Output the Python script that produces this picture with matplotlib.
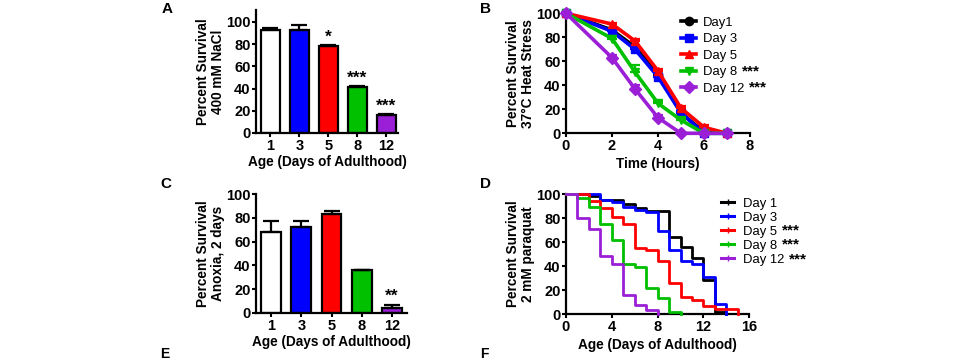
import matplotlib
matplotlib.use("Agg")
import matplotlib.pyplot as plt
from matplotlib.lines import Line2D
import numpy as np

plt.rcParams['font.family'] = ['Liberation Sans', 'DejaVu Sans']

# ---------------- data ----------------
ages = ['1', '3', '5', '8', '12']
bar_colors = ['#FFFFFF', '#0000FF', '#FF0000', '#00C000', '#9B1FD6']

nacl_mean = [93, 93, 78, 41, 16]
nacl_err = [1.5, 4.5, 1.5, 1.5, 1.5]
nacl_sig = ['', '', '*', '***', '***']

anoxia_mean = [68, 72, 83, 36, 4]
anoxia_err = [9, 5, 3, 0, 3]
anoxia_sig = ['', '', '', '', '**']

heat_time = [0, 2, 3, 4, 5, 6, 7]
heat_day1 = [100, 86, 72, 49, 17, 1, 0]
heat_day1_err = [0, 2, 6, 3, 2, 1, 0]
heat_day3 = [100, 85, 70, 47, 17, 0, 0]
heat_day3_err = [0, 2, 3, 5, 2, 0, 0]
heat_day5 = [100, 91, 77, 52, 21, 5, 0]
heat_day5_err = [0, 1, 2, 2, 2, 2, 0]
heat_day8 = [100, 79, 51, 25, 11, 0, 0]
heat_day8_err = [0, 2, 6, 2, 2, 0, 0]
heat_day12 = [100, 63, 37, 13, 0, 0, 0]
heat_day12_err = [0, 2, 3, 2, 0, 0, 0]
heat_labels = ['Day1', 'Day 3', 'Day 5', 'Day 8', 'Day 12']
heat_sig = ['', '', '', '***', '***']
heat_markers = ['o', 's', '^', 'v', 'D']
line_colors = ['#000000', '#0000FF', '#FF0000', '#00C000', '#9B1FD6']

pq_day1_t = [0, 2, 3, 5, 6, 7, 9, 10, 11, 12, 13, 14]
pq_day1_s = [100, 98.5, 95, 92, 88, 86, 64, 56, 47, 28, 1.5, 0]
pq_day3_t = [0, 3, 4, 5, 6, 7, 8, 9, 10, 11, 12, 13, 14]
pq_day3_s = [100, 95, 93, 89.5, 87, 85, 69, 53, 44, 42, 31, 8, 0]
pq_day5_t = [0, 2, 3, 4, 5, 6, 7, 8, 9, 10, 11, 12, 13, 15]
pq_day5_s = [100, 94, 88, 81, 75, 55, 53, 44, 26, 14, 12, 7, 4, 0]
pq_day8_t = [0, 1, 2, 3, 4, 5, 6, 7, 8, 9, 10]
pq_day8_s = [100, 96.4, 89, 75, 62, 42, 39, 22, 13, 1.5, 0]
pq_day12_t = [0, 1, 2, 3, 4, 5, 6, 7, 8]
pq_day12_s = [100, 80, 71, 48, 41.6, 16, 7.5, 3.5, 0]
pq_labels = ['Day 1', 'Day 3', 'Day 5', 'Day 8', 'Day 12']
pq_sig = ['', '', '***', '***', '***']

# ---------------- figure ----------------
W, H = 967, 362
fig = plt.figure(figsize=(W / 100, H / 100), dpi=100)
fig.patch.set_facecolor('white')


def px_axes(x0, x1, ytop, ybot):
    return fig.add_axes([x0 / W, 1 - ybot / H, (x1 - x0) / W, (ybot - ytop) / H])


TICK_FS = 10.5
LAB_FS = 9.8
LEG_FS = 9.4


def style(ax):
    for s in ['top', 'right']:
        ax.spines[s].set_visible(False)
    for s in ['left', 'bottom']:
        ax.spines[s].set_linewidth(1.6)
    ax.tick_params(direction='out', length=3, width=1.5, labelsize=TICK_FS, pad=1)
    for lab in ax.get_xticklabels() + ax.get_yticklabels():
        lab.set_fontweight('bold')


def bar_panel(ax, means, errs, sigs, ylabel, ytop):
    x = np.arange(len(ages))
    ax.bar(x, means, width=0.65, color=bar_colors, edgecolor='black', linewidth=1.6, zorder=2)
    ax.errorbar(x, means, yerr=[np.zeros(len(errs)), errs], fmt='none', ecolor='black',
                elinewidth=1.6, capsize=6, capthick=1.6, zorder=3)
    for xi, m, e, s in zip(x, means, errs, sigs):
        if s:
            ax.text(xi, m + e + 7, s, ha='center', va='center', fontsize=12.5, fontweight='bold')
    ax.set_xticks(x)
    ax.set_xticklabels(ages)
    ax.set_yticks(np.arange(0, 101, 20))
    ax.set_ylim(0, ytop)
    ax.tick_params(axis='x', length=0)
    ax.set_xlabel('Age (Days of Adulthood)', fontsize=LAB_FS, fontweight='bold', labelpad=2)
    ax.set_ylabel(ylabel, fontsize=LAB_FS, fontweight='bold', labelpad=1, linespacing=1.05)
    style(ax)


# Panel A
axA = px_axes(256, 398, 10, 133)
bar_panel(axA, nacl_mean, nacl_err, nacl_sig, 'Percent Survival\n400 mM NaCl', 110.8)
axA.set_xlim(-0.5, 4.4)

# Panel C
axC = px_axes(256, 407, 194, 313)
bar_panel(axC, anoxia_mean, anoxia_err, anoxia_sig, 'Percent Survival\nAnoxia, 2 days', 100)
axC.set_xlim(-0.5, 4.5)

# Panel B
axB = px_axes(566, 750, 13.3, 133.3)
heat_series = [heat_day1, heat_day3, heat_day5, heat_day8, heat_day12]
heat_errs = [heat_day1_err, heat_day3_err, heat_day5_err, heat_day8_err, heat_day12_err]
order = [3, 4, 0, 1, 2]
handles = [None] * 5
for i in order:
    ys, es = heat_series[i], heat_errs[i]
    axB.errorbar(heat_time, ys, yerr=[np.zeros(len(es)), es], color=line_colors[i],
                 marker=heat_markers[i], markersize=6, linewidth=2.6, elinewidth=1.6,
                 capsize=3.5, capthick=1.6, clip_on=False, zorder=3 + i)
    handles[i] = Line2D([], [], color=line_colors[i], marker=heat_markers[i], markersize=6,
                        linewidth=2.6)
axB.set_xlim(0, 8)
axB.set_ylim(0, 100)
axB.set_xticks([0, 2, 4, 6, 8])
axB.set_yticks(np.arange(0, 101, 20))
axB.set_xlabel('Time (Hours)', fontsize=LAB_FS, fontweight='bold', labelpad=3)
axB.set_ylabel('Percent Survival\n37°C Heat Stress', fontsize=LAB_FS, fontweight='bold',
               labelpad=1, linespacing=1.05)
style(axB)
legB = fig.legend(handles, heat_labels, loc='upper left', bbox_to_anchor=(681 / W, 1 - 16.5 / H),
                  frameon=False, fontsize=LEG_FS, handlelength=1.15, handletextpad=0.5,
                  labelspacing=0.34, borderpad=0, borderaxespad=0)

# Panel D
axD = px_axes(566, 749.3, 194, 314)
pq_t = [pq_day1_t, pq_day3_t, pq_day5_t, pq_day8_t, pq_day12_t]
pq_s = [pq_day1_s, pq_day3_s, pq_day5_s, pq_day8_s, pq_day12_s]
handlesD = []
for i in [0, 1, 2, 3, 4]:
    axD.plot(pq_t[i], pq_s[i], drawstyle='steps-post', color=line_colors[i], linewidth=2.0,
             clip_on=False, zorder=3 + i)
    handlesD.append(Line2D([], [], color=line_colors[i], linewidth=2.2, marker='|',
                           markersize=4, markeredgewidth=1))
axD.set_xlim(0, 16)
axD.set_ylim(0, 100)
axD.set_xticks([0, 4, 8, 12, 16])
axD.set_yticks(np.arange(0, 101, 20))
axD.set_xlabel('Age (Days of Adulthood)', fontsize=LAB_FS, fontweight='bold', labelpad=3)
axD.set_ylabel('Percent Survival\n2 mM paraquat', fontsize=LAB_FS, fontweight='bold',
               labelpad=1, linespacing=1.05)
style(axD)
legD = fig.legend(handlesD, pq_labels, loc='upper left', bbox_to_anchor=(721 / W, 1 - 197.5 / H),
                  frameon=False, fontsize=LEG_FS, handlelength=1.0, handletextpad=0.65,
                  labelspacing=0.15, borderpad=0, borderaxespad=0)

# bold significance stars after legend labels
fig.canvas.draw()
renderer = fig.canvas.get_renderer()
for leg, sigs in [(legB, heat_sig), (legD, pq_sig)]:
    for txt, s in zip(leg.get_texts(), sigs):
        if s:
            bb = txt.get_window_extent(renderer)
            fig.text((bb.x1 + 5.5) / W, bb.y0 / H, s, fontsize=LEG_FS + 1.5, fontweight='bold',
                     ha='left', va='bottom')

# Panel letters
for letter, x, y in [('A', 162, 2), ('B', 480, 2), ('C', 160, 177), ('D', 480, 177)]:
    fig.text(x / W, 1 - y / H, letter, fontsize=11, fontweight='bold', ha='left', va='top')
for letter, x in [('E', 160), ('F', 480)]:
    fig.text(x / W, 1 - 361.5 / H, letter, fontsize=10, fontweight='bold', ha='left', va='bottom')

fig.savefig('out.png', dpi=100, facecolor='white')
